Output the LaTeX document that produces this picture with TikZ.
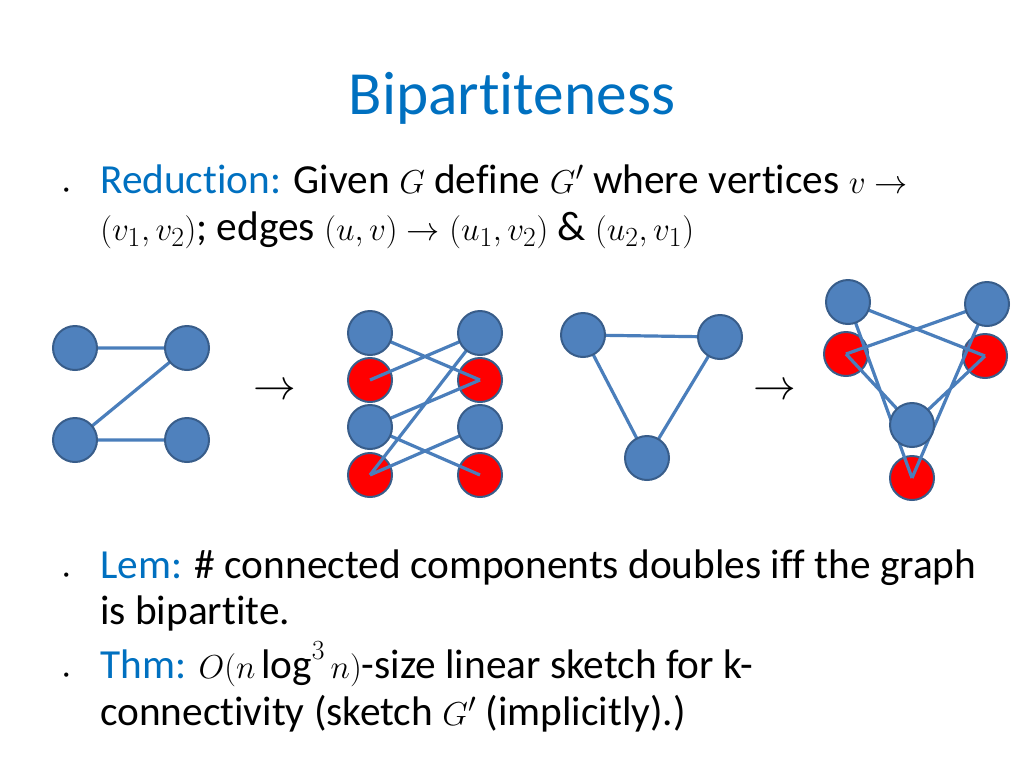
\documentclass[tikz,border=0pt]{standalone}
\usepackage{fontspec}
\setmainfont[Ligatures=NoCommon]{Carlito}
\usetikzlibrary{positioning}
\definecolor{titleblue}{RGB}{0,112,192}
\definecolor{vblue}{RGB}{79,129,189}
\definecolor{vline}{RGB}{56,93,138}
\definecolor{eblue}{RGB}{74,126,187}
\begin{document}
\begin{tikzpicture}[x=0.75pt, y=-0.75pt
    , bvert/.style={circle, inner sep=0pt, draw=vline, line width=1.5pt, fill=vblue, minimum size=33pt}
    , rvert/.style={circle, inner sep=0pt, draw=vline, line width=1.5pt, fill=red, minimum size=33pt}
    , gedge/.style={draw=eblue, line width=2.4pt}
    , txt/.style={anchor=base west, inner sep=0pt, font=\fontsize{31}{36}\selectfont}
    , bigarrow/.style={inner sep=0pt}
    ]
    \useasboundingbox (0,0) rectangle (1024,768);

    \node[text=titleblue, font=\fontsize{46}{50}\selectfont] (title) at (512,98) {Bipartiteness};

    % text
    \node[txt] (b1) at (63,193) {\small\textbullet};
    \node[txt] (l1) at (100,193) {\textcolor{titleblue}{Reduction:} Given $G$ define $G'$ where vertices $v\rightarrow$};
    \node[txt] (l2) at (100,240) {$(v_1,v_2)$; edges $(u,v)\rightarrow(u_1,v_2)$ \& $(u_2,v_1)$};
    \node[txt] (b2) at (63,578) {\small\textbullet};
    \node[txt] (l3) at (100,578) {\textcolor{titleblue}{Lem:} \# connected components doubles iff the graph};
    \node[txt] (l4) at (100,624) {is bipartite.};
    \node[txt] (b3) at (63,678) {\small\textbullet};
    \node[txt] (l5) at (100,678) {\textcolor{titleblue}{Thm:} $O(n\log^3 n)$-size linear sketch for k-};
    \node[txt] (l6) at (100,725) {connectivity (sketch $G'$ (implicitly).)};

    % red vertices below the edges
    \node[rvert] (p1r) at (370,380) {};
    \node[rvert] (p2r) at (370,475) {};
    \node[rvert] (q1r) at (480,380) {};
    \node[rvert] (q2r) at (480,475) {};
    \node[rvert] (s1r) at (846,354) {};
    \node[rvert] (t1r) at (985,356) {};
    \node[rvert] (ubr) at (912,478) {};

    % blue vertex positions
    \coordinate (a1) at (75,348);
    \coordinate (a2) at (187,348);
    \coordinate (a3) at (75,440);
    \coordinate (a4) at (187,440);
    \coordinate (p1) at (370,333);
    \coordinate (q1) at (480,333);
    \coordinate (p2) at (370,427);
    \coordinate (q2) at (480,427);
    \coordinate (c1) at (583,335);
    \coordinate (c2) at (720,337);
    \coordinate (c3) at (647,458);
    \coordinate (s1) at (848,302);
    \coordinate (t1) at (987,304);
    \coordinate (ub) at (912,425);

    \draw[gedge] (a1) -- (a2) -- (a3) -- (a4);
    \draw[gedge] (p1) -- (q1r.center) (q1) -- (p1r.center)
        (q1) -- (p2r.center) (p2) -- (q1r.center)
        (p2) -- (q2r.center) (q2) -- (p2r.center);
    \draw[gedge] (c1) -- (c2) -- (c3) -- cycle;
    \draw[gedge] (s1) -- (t1r.center) (t1) -- (s1r.center)
        (s1) -- (ubr.center) (s1r.center) -- (ub)
        (t1) -- (ubr.center) (t1r.center) -- (ub);

    \foreach \n in {a1,a2,a3,a4,p1,q1,p2,q2,c1,c2,c3,s1,t1,ub}
        \node[bvert] at (\n) {};

    \node[bigarrow] (arr1) at (275,392) {\scalebox{3.2}{$\rightarrow$}};
    \node[bigarrow] (arr2) at (775,392) {\scalebox{3.2}{$\rightarrow$}};
\end{tikzpicture}
\end{document}
